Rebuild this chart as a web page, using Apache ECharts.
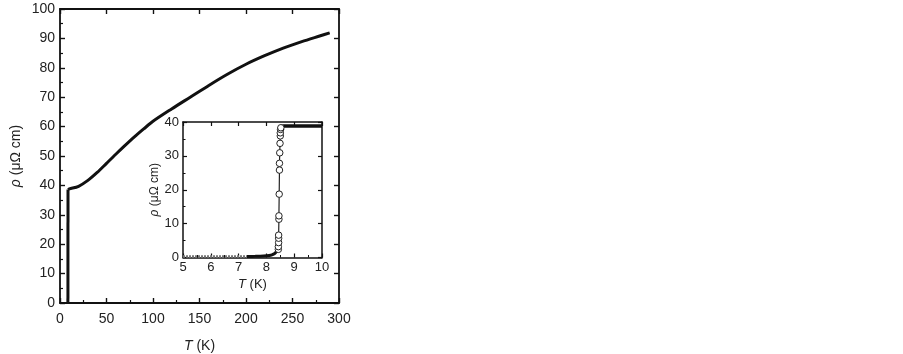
<!DOCTYPE html>
<html><head><meta charset="utf-8">
<script src="https://cdn.jsdelivr.net/npm/echarts@6/dist/echarts.min.js"></script>
<style>html,body{margin:0;padding:0;background:#fff}#c{width:903px;height:354px}</style>
</head><body><div id="c"></div>
<script>
// Main curve: T (K) vs rho (µΩ cm)
const dropT   = [8.5, 8.6];
const dropRho = [0, 38.6];
const mainT   = [8.6, 10, 20, 30, 40, 50, 60, 70, 80, 90, 100, 120, 140, 160, 180, 200, 220, 240, 260, 280, 290];
const mainRho = [38.6, 38.8, 39.7, 41.7, 44.4, 47.5, 50.6, 53.6, 56.5, 59.2, 61.8, 66.0, 70.0, 74.0, 77.8, 81.2, 84.1, 86.7, 88.9, 90.9, 91.9];
// Inset: baseline (grey dotted part and black part), transition circles, plateau
const insetBaseGreyT   = [5.0, 5.5, 6.0, 6.5, 7.0, 7.3];
const insetBaseGreyRho = [0.3, 0.3, 0.3, 0.3, 0.3, 0.3];
const insetBaseBlackT   = [7.3, 7.6, 7.9, 8.1, 8.2, 8.3, 8.36, 8.42];
const insetBaseBlackRho = [0.3, 0.35, 0.45, 0.6, 0.8, 1.2, 1.7, 2.3];
const insetCircT   = [8.43, 8.43, 8.44, 8.44, 8.44, 8.45, 8.45, 8.46, 8.47, 8.47, 8.48, 8.49, 8.50, 8.50, 8.51, 8.52];
const insetCircRho = [2.4, 3.2, 4.4, 5.7, 6.6, 11.3, 12.3, 18.7, 25.8, 27.8, 30.9, 33.7, 35.9, 36.8, 37.8, 38.3];
const insetPlatT   = [8.52, 8.56, 8.62, 8.7, 9.0, 9.5, 10.0];
const insetPlatRho = [38.3, 38.7, 38.8, 38.8, 38.8, 38.8, 38.8];
// Tick labels
const mainXTicks = [0, 50, 100, 150, 200, 250, 300];
const mainYTicks = [0, 10, 20, 30, 40, 50, 60, 70, 80, 90, 100];
const insetXTicks = [5, 6, 7, 8, 9, 10];
const insetYTicks = [0, 10, 20, 30, 40];

const zip = (a, b) => a.map((v, i) => [v, b[i]]);
const FONT = 'Liberation Sans, Arial, sans-serif';
const ink = '#111';

function axisBase(extra) {
  return Object.assign({
    axisLine: {show: true, onZero: false, lineStyle: {color: ink, width: 1.8}},
    splitLine: {show: false},
    axisTick: {show: true, inside: true, length: 5, lineStyle: {color: ink, width: 1.4}},
    minorTick: {show: false},
  }, extra);
}
function inset(extra) {
  return Object.assign({
    axisLine: {show: true, onZero: false, lineStyle: {color: ink, width: 1.5}},
    splitLine: {show: false},
    axisTick: {show: true, inside: true, length: 4, lineStyle: {color: ink, width: 1.2}},
    minorTick: {show: false},
  }, extra);
}
const nameStyle = (fs) => ({color: '#222', fontSize: fs, fontFamily: FONT,
  rich: {i: {fontStyle: 'italic', fontSize: fs, fontFamily: FONT, color: '#222'}}});

const chart = echarts.init(document.getElementById('c'), null, {renderer: 'canvas'});
chart.setOption({
  animation: false,
  backgroundColor: '#fff',
  grid: [
    {left: 60, top: 9, width: 279, height: 294, show: false, containLabel: false, outerBoundsMode: 'none'},
    {left: 183, top: 122, width: 139, height: 135.5, show: true, backgroundColor: '#fff', borderWidth: 0,
      containLabel: false, outerBoundsMode: 'none'}
  ],
  xAxis: [
    axisBase({gridIndex: 0, type: 'value', min: 0, max: 300, interval: 50, position: 'bottom',
      minorTick: {show: true, splitNumber: 2, length: 3, lineStyle: {color: ink, width: 1.2}},
      axisLabel: {color: '#222', fontSize: 14, fontFamily: FONT, margin: 9,
        customValues: mainXTicks, formatter: v => String(v)},
      name: '{i|T} (K)', nameLocation: 'middle', nameGap: 36, nameTextStyle: nameStyle(14)
    }),
    axisBase({gridIndex: 0, type: 'value', min: 0, max: 300, interval: 50, position: 'top', axisLabel: {show: false}}),
    inset({gridIndex: 1, type: 'value', min: 5, max: 10, interval: 1, position: 'bottom',
      minorTick: {show: true, splitNumber: 2, length: 2.5, lineStyle: {color: ink, width: 1}},
      axisLabel: {color: '#222', fontSize: 13, fontFamily: FONT, margin: 3,
        customValues: insetXTicks, formatter: v => String(v)},
      name: '{i|T} (K)', nameLocation: 'middle', nameGap: 20, nameTextStyle: nameStyle(13)
    }),
    inset({gridIndex: 1, type: 'value', min: 5, max: 10, interval: 1, position: 'top', axisLabel: {show: false}})
  ],
  yAxis: [
    axisBase({gridIndex: 0, type: 'value', min: 0, max: 100, interval: 10, position: 'left',
      minorTick: {show: true, splitNumber: 2, length: 3, lineStyle: {color: ink, width: 1.2}},
      axisLabel: {color: '#222', fontSize: 14, fontFamily: FONT, margin: 5,
        customValues: mainYTicks, formatter: v => String(v)},
      name: '{i|ρ} (μΩ cm)', nameLocation: 'middle', nameGap: 37, nameRotate: 90, nameTextStyle: nameStyle(14)
    }),
    axisBase({gridIndex: 0, type: 'value', min: 0, max: 100, interval: 10, position: 'right', axisLabel: {show: false}}),
    inset({gridIndex: 1, type: 'value', min: 0, max: 40, interval: 10, position: 'left',
      minorTick: {show: true, splitNumber: 2, length: 2.5, lineStyle: {color: ink, width: 1}},
      axisLabel: {color: '#222', fontSize: 13, fontFamily: FONT, margin: 4,
        customValues: insetYTicks, formatter: v => String(v)},
      name: '{i|ρ} (μΩ cm)', nameLocation: 'middle', nameGap: 20, nameRotate: 90, nameTextStyle: nameStyle(12)
    }),
    inset({gridIndex: 1, type: 'value', min: 0, max: 40, interval: 10, position: 'right', axisLabel: {show: false}})
  ],
  series: [
    {type: 'line', xAxisIndex: 0, yAxisIndex: 0, data: zip(dropT, dropRho),
      showSymbol: false, lineStyle: {color: ink, width: 3}, z: 3},
    {type: 'line', xAxisIndex: 0, yAxisIndex: 0, data: zip(mainT, mainRho), smooth: 0.3,
      showSymbol: false, lineStyle: {color: ink, width: 3}, z: 3},
    {type: 'line', xAxisIndex: 2, yAxisIndex: 2, data: zip(insetBaseGreyT, insetBaseGreyRho),
      showSymbol: false, lineStyle: {color: '#777', width: 2.5, type: [2, 1]}, z: 4},
    {type: 'line', xAxisIndex: 2, yAxisIndex: 2, data: zip(insetBaseBlackT, insetBaseBlackRho), smooth: 0.3,
      showSymbol: false, lineStyle: {color: ink, width: 3}, z: 4},
    {type: 'line', xAxisIndex: 2, yAxisIndex: 2, data: zip(insetCircT, insetCircRho),
      symbol: 'circle', symbolSize: 6.5, showSymbol: true,
      itemStyle: {color: '#fff', borderColor: '#222', borderWidth: 1},
      lineStyle: {color: '#222', width: 1.2}, z: 5},
    {type: 'line', xAxisIndex: 2, yAxisIndex: 2, data: zip(insetPlatT, insetPlatRho), smooth: 0.3,
      showSymbol: false, lineStyle: {color: ink, width: 3.5}, z: 4}
  ]
});
</script></body></html>
